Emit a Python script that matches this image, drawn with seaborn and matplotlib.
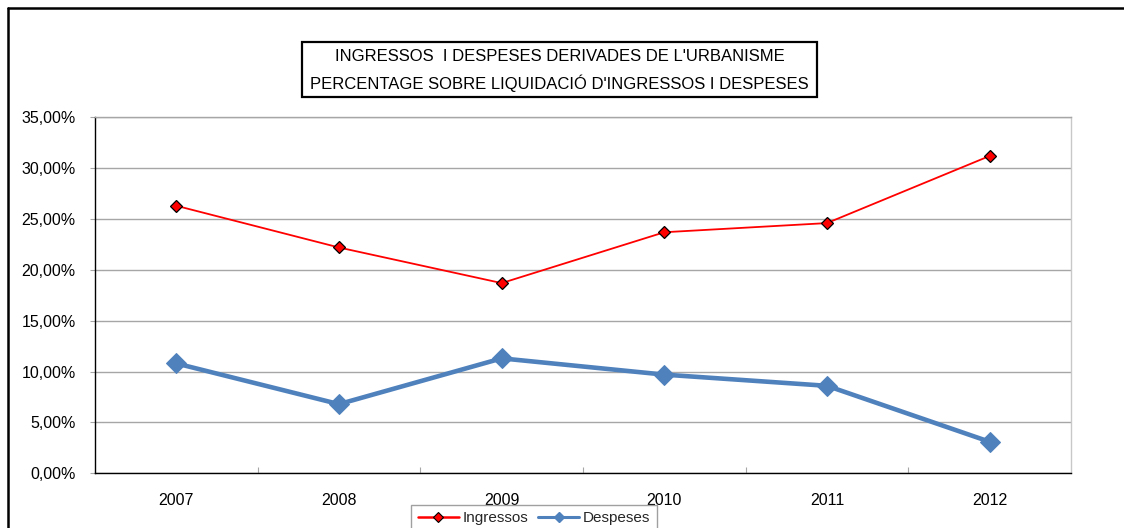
import matplotlib
matplotlib.use("Agg")
import matplotlib.pyplot as plt
from matplotlib.lines import Line2D
from matplotlib.patches import Rectangle
from matplotlib.ticker import FuncFormatter, FixedLocator
import numpy as np
import pandas as pd
import seaborn as sns

# Data
years = ["2007", "2008", "2009", "2010", "2011", "2012"]
ingressos = [26.3, 22.2, 18.7, 23.7, 24.6, 31.2]
despeses = [10.8, 6.8, 11.3, 9.7, 8.6, 3.1]
y_ticks = [0, 5, 10, 15, 20, 25, 30, 35]
title_lines = ["INGRESSOS  I DESPESES DERIVADES DE L'URBANISME",
               "PERCENTAGE SOBRE LIQUIDACIÓ D'INGRESSOS I DESPESES"]
series_names = ["Ingressos", "Despeses"]

sns.set_theme(style="white")
plt.rcParams["font.family"] = ["Liberation Sans", "DejaVu Sans"]

W, H = 1124, 528
fig = plt.figure(figsize=(W / 100, H / 100), dpi=100)
fig.patch.set_facecolor("white")

ax = fig.add_axes([95 / W, 1 - 473.3 / H, (1071 - 95) / W, (473.3 - 117.3) / H])

pos = np.arange(len(years))
df = pd.DataFrame({"pos": pos, "Ingressos": ingressos, "Despeses": despeses})

red = "#ff0000"
blue = "#4f81bd"

sns.lineplot(data=df, x="pos", y="Despeses", ax=ax, color=blue, linewidth=3.3,
             marker="D", markersize=10, markeredgecolor=blue, markerfacecolor=blue,
             zorder=3, legend=False)
sns.lineplot(data=df, x="pos", y="Ingressos", ax=ax, color=red, linewidth=1.3,
             marker="D", markersize=6, markeredgecolor="black", markeredgewidth=0.9,
             markerfacecolor=red, zorder=4, legend=False)

ax.set_xlim(-0.5, len(years) - 0.5)
ax.set_ylim(0, 35)
ax.set_xlabel("")
ax.set_ylabel("")

# y axis
ax.yaxis.set_major_locator(FixedLocator(y_ticks))
ax.yaxis.set_major_formatter(FuncFormatter(lambda v, p: f"{v:.2f}".replace(".", ",") + "%"))
ax.grid(axis="y", color="#a6a6a6", linewidth=1.0)
ax.set_axisbelow(True)
ax.tick_params(axis="y", which="major", direction="out", length=3.5, width=0.8,
               color="#a6a6a6", pad=10.5, labelsize=11.5, labelcolor="black", left=True)

# x axis: boundary ticks inward, labels centred on categories
ax.xaxis.set_major_locator(FixedLocator(pos[:-1] + 0.5))
ax.xaxis.set_major_formatter(FuncFormatter(lambda v, p: ""))
ax.xaxis.set_minor_locator(FixedLocator(pos))
ax.xaxis.set_minor_formatter(FuncFormatter(lambda v, p: years[int(round(v))]))
ax.tick_params(axis="x", which="major", direction="in", length=4, width=0.8,
               color="#a6a6a6", bottom=True)
ax.tick_params(axis="x", which="minor", length=0, pad=14, labelsize=11.5,
               labelcolor="black", bottom=True)

for side in ["left", "bottom"]:
    ax.spines[side].set_color("black")
    ax.spines[side].set_linewidth(1.0)
ax.spines["right"].set_color("#c8c8c8")
ax.spines["right"].set_linewidth(1.0)
ax.spines["top"].set_color("#a6a6a6")
ax.spines["top"].set_linewidth(1.0)

# Legend
handles = [
    Line2D([], [], color=red, linewidth=1.8, marker="D", markersize=5,
           markerfacecolor=red, markeredgecolor="black", markeredgewidth=0.8),
    Line2D([], [], color=blue, linewidth=2.2, marker="D", markersize=5.5,
           markerfacecolor=blue, markeredgecolor=blue),
]
leg = fig.legend(handles, series_names, loc="upper center",
                 bbox_to_anchor=(534 / W, 1 - 505 / H), ncol=2, frameon=True,
                 fancybox=False, edgecolor="#a0a0a0", framealpha=1,
                 fontsize=11, handlelength=2.68, handletextpad=0.26,
                 columnspacing=0.65, borderpad=0.4, borderaxespad=0)
leg.get_frame().set_linewidth(1.0)

# Title box
fig.add_artist(Rectangle((302 / W, 1 - 97 / H), (817 - 302) / W, (97 - 42) / H,
                         transform=fig.transFigure, fill=False,
                         edgecolor="black", linewidth=1.6))
fig.text(559.5 / W, 1 - 56.5 / H, title_lines[0], ha="center", va="center",
         fontsize=12, color="black")
fig.text(559.5 / W, 1 - 83.5 / H, title_lines[1], ha="center", va="center",
         fontsize=12, color="black")

# Outer frame (left and top edges)
fig.add_artist(Line2D([8 / W, 8 / W], [0, 1 - 8 / H], transform=fig.transFigure,
                      color="black", linewidth=1.8))
fig.add_artist(Line2D([8 / W, 1], [1 - 8 / H, 1 - 8 / H], transform=fig.transFigure,
                      color="black", linewidth=1.8))

fig.savefig("out.png", dpi=100, facecolor="white")
